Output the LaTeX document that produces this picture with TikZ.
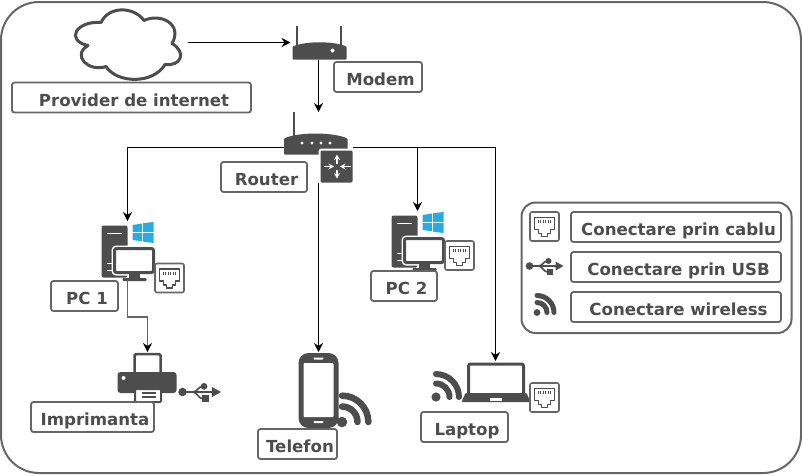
\documentclass[tikz,border=0pt]{standalone}
\usepackage{fontspec}
\setmainfont{DejaVu Sans}
\usetikzlibrary{arrows.meta,calc}
\definecolor{NetDark}{HTML}{4D4D4D}
\definecolor{NetLine}{HTML}{666666}
\definecolor{NetBlue}{HTML}{29ABE2}
\tikzset{
  portbox/.pic={
    \draw[NetLine,line width=1.6pt,fill=white,rounded corners=2pt] (-14.5,-14.5) rectangle (14.5,14.5);
    \draw[NetDark,line width=1.6pt,line join=round] (-10,-9) -- (10,-9) -- (10,3) -- (6,3) -- (6,7) -- (3,7) -- (3,10) -- (-3,10) -- (-3,7) -- (-6,7) -- (-6,3) -- (-10,3) -- cycle;
    \foreach \px in {-6,-3.6,-1.2,1.2,3.6,6}
      \draw[NetDark,line width=.9pt] (\px,-6.5) -- (\px,-3.5);
  },
  usbmark/.pic={
    \fill[NetDark] (-15,0) circle (3.8);
    \draw[NetDark,line width=1.6pt] (-15,0) -- (13,0);
    \fill[NetDark] (19,0) -- (11,-4.5) -- (11,4.5) -- cycle;
    \draw[NetDark,line width=1.6pt] (-6,0) .. controls (-2,0) and (-1,-5) .. (3,-5);
    \draw[NetDark,line width=1.6pt] (-6,0) .. controls (-2,0) and (-1,6) .. (3,6);
    \fill[NetDark] (4,-5) circle (3);
    \fill[NetDark] (2,3) rectangle (8,9);
  },
  wifimark/.pic={
    \fill[NetDark] (0,0) circle (3.4);
    \draw[NetDark,line cap=round] (10,0) arc[start angle=0,end angle=-90,radius=10];
    \draw[NetDark,line cap=round] (17,0) arc[start angle=0,end angle=-90,radius=17];
  },
  winmark/.pic={
    \fill[NetBlue] (0,3) -- (9.5,1.5) -- (9.5,9.8) -- (0,9.8) -- cycle;
    \fill[NetBlue] (10.5,1.2) -- (21,0) -- (21,9.8) -- (10.5,9.8) -- cycle;
    \fill[NetBlue] (0,10.8) -- (9.5,10.8) -- (9.5,19.2) -- (0,18) -- cycle;
    \fill[NetBlue] (10.5,10.8) -- (21,10.8) -- (21,21) -- (10.5,19.6) -- cycle;
  },
  pcmark/.pic={
    \fill[NetDark,rounded corners=2pt] (-26,-25) rectangle (0,27);
    \draw[white,line width=1.5pt] (-21,-17) -- (-6,-17);
    \draw[white,line width=1.5pt] (-21,13) -- (-15,13);
    \draw[white,line width=1.5pt] (-21,20) -- (-15,20);
    \draw[white,line width=6pt,rounded corners=2pt] (-13,-2) rectangle (26,22);
    \draw[NetDark,line width=3pt,fill=white,rounded corners=2pt] (-13,-2) rectangle (26,22);
    \fill[NetDark] (1,23) rectangle (12,28);
    \fill[NetDark,rounded corners=1pt] (-5,27.5) rectangle (19,30.5);
    \pic at (5,-28.5) {winmark};
  },
  cloudmark/.pic={
    \draw[NetDark,line width=3pt,fill=white,line join=round] (-30,-20) .. controls (-22,-37) and (3,-36) .. (13,-22) .. controls (30,-30) and (52,-18) .. (41,1) .. controls (56,10) and (50,24) .. (34,22) .. controls (22,42) and (-14,41) .. (-25,24) .. controls (-42,30) and (-60,13) .. (-43,3) .. controls (-66,-2) and (-55,-22) .. (-30,-20) -- cycle;
  },
  modemmark/.pic={
    \draw[NetDark,line width=2pt] (-22,-17) -- (-22,6);
    \draw[NetDark,line width=2pt] (22,-17) -- (22,6);
    \fill[NetDark,rounded corners=1pt] (-26,4) .. controls (-12,-1.5) and (14,-1.5) .. (28,4) -- (28,17) -- (-26,17) -- cycle;
    \fill[white] (14,8) circle (2);
  },
  routermark/.pic={
    \draw[NetDark,line width=2pt] (-25,-36) -- (-25,-8);
    \fill[NetDark,rounded corners=1pt] (-34.5,-9) .. controls (-20,-15.5) and (14,-15.5) .. (29,-9) -- (29,7) -- (-34.5,7) -- cycle;
    \foreach \dx in {-16.5,-6.5,2.5,11.5}
      \fill[white] (\dx,-4.5) circle (1.7);
    \draw[white,line width=2pt,fill=NetDark,rounded corners=2pt] (1,2) rectangle (35,36);
    \draw[white,line width=1.4pt,-{Stealth[length=5.5pt,width=6pt]}] (18.5,16) -- (18.5,7);
    \draw[white,line width=1.4pt,-{Stealth[length=5.5pt,width=6pt]}] (18.5,22) -- (18.5,31);
    \draw[white,line width=1.4pt,-{Stealth[length=5.5pt,width=6pt]}] (5,19) -- (15.5,19);
    \draw[white,line width=1.4pt,-{Stealth[length=5.5pt,width=6pt]}] (32,19) -- (21.5,19);
  },
  printermark/.pic={
    \draw[NetDark,line width=2.5pt,fill=white,rounded corners=1.5pt] (-13,-23) rectangle (13,2);
    \fill[NetDark,rounded corners=3pt] (-30,-5) rectangle (29,16);
    \fill[white] (-24,1) circle (2);
    \draw[NetDark,line width=2pt,fill=white,rounded corners=1pt] (-12.5,12) rectangle (13.5,25);
    \draw[NetDark,line width=1.2pt] (-6,16) -- (8,16) (-6,20) -- (8,20);
  },
  phonemark/.pic={
    \fill[NetDark,rounded corners=10pt] (-20,-37) rectangle (20,38);
    \fill[white,rounded corners=1pt] (-15,-27) rectangle (15,27);
    \fill[white,rounded corners=.8pt] (-5,-32.5) rectangle (5,-30.5);
    \fill[white,rounded corners=.8pt] (-5,31) rectangle (5,33);
  },
  laptopmark/.pic={
    \draw[NetDark,line width=3pt,fill=white,rounded corners=2pt] (-27,-19) rectangle (28,12);
    \fill[NetDark,rounded corners=1pt] (-30,10) -- (31,10) -- (35,19) -- (-34,19) -- cycle;
    \fill[white] (-6,14.5) rectangle (6,17.5);
  }
}
\begin{document}
\begin{tikzpicture}[
    x=1pt,y=-1pt,
    slot/.style={inner sep=0pt,outer sep=0pt},
    lbl/.style={draw=NetLine,line width=1.8pt,fill=white,rounded corners=2.5pt,inner sep=0pt,minimum height=30pt,text height=17pt,text depth=0pt,text=NetDark,font=\fontsize{16.6}{18}\selectfont\bfseries,execute at begin node={\hspace*{5pt}}},
    arr/.style={-{Stealth[length=9pt,width=9pt]},line width=1pt}
  ]
    \useasboundingbox (0,0) rectangle (802,475);
    \draw[NetLine,line width=2pt,rounded corners=38pt] (1,2) rectangle (801,473);
    \draw[NetLine,line width=2pt,rounded corners=14pt] (521.5,202.5) rectangle (791.5,333);

    \node[slot,minimum width=114pt,minimum height=70pt] (cloud) at (131,42.5) {};
    \node[slot,minimum width=56pt,minimum height=34pt] (modem) at (318.5,42.5) {};
    \node[slot,minimum width=69pt,minimum height=71pt] (router) at (318.5,147.5) {};
    \node[slot,minimum width=54pt,minimum height=59pt] (pc1) at (127.5,250.5) {};
    \node[slot,minimum width=54pt,minimum height=59pt] (pc2) at (417.5,240.5) {};
    \node[slot,minimum width=60pt,minimum height=50pt] (printer) at (147.5,377) {};
    \node[slot,minimum width=40pt,minimum height=76pt] (phone) at (318.5,390) {};
    \node[slot,minimum width=60pt,minimum height=44pt] (laptop) at (495.5,383) {};

    \pic at (cloud) {cloudmark};
    \pic at (modem) {modemmark};
    \pic at (router) {routermark};
    \pic at (pc1) {pcmark};
    \pic at (pc2) {pcmark};
    \pic at (printer) {printermark};
    \pic[scale=1.55,line width=6.5pt] at (342,422) {wifimark};
    \pic at (phone) {phonemark};
    \pic at (laptop) {laptopmark};

    \pic at (169.5,278) {portbox};
    \pic at (459.5,255.5) {portbox};
    \pic at (544.5,397.5) {portbox};
    \pic at (544.5,226.5) {portbox};
    \pic[scale=1.13] at (199.5,392) {usbmark};
    \pic at (544.5,266) {usbmark};
    \pic[scale=1.35,line width=6pt] at (436,397) {wifimark};
    \pic[line width=5pt] at (537,312.5) {wifimark};

    \draw[arr] (cloud.east) -- (modem.west);
    \draw[arr] (modem.south) -- (router.north);
    \draw[arr] (router.west) -| (pc1.north);
    \draw[arr] (router.east) -| (pc2.north);
    \draw[arr] (router.east) -| (laptop.north);
    \draw[arr] (router.south) -- (phone.north);
    \draw[arr,NetLine,line width=1.3pt,-{Stealth[length=9pt,width=9pt,color=black]}] (pc1.south) -- ++(0,37) -| (printer.north);

    \node[lbl,minimum width=239pt] (providerlbl) at (131.5,97.5) {Provider de internet};
    \node[lbl,minimum width=88pt] (modemlbl) at (378,77) {Modem};
    \node[lbl,minimum width=86pt] (routerlbl) at (264,177) {Router};
    \node[lbl,minimum width=67pt] (pc1lbl) at (84.5,296) {PC 1};
    \node[lbl,minimum width=66pt] (pc2lbl) at (404,286) {PC 2};
    \node[lbl,minimum width=123pt] (printerlbl) at (92.5,417) {Imprimanta};
    \node[lbl,minimum width=79pt] (phonelbl) at (297.5,444) {Telefon};
    \node[lbl,minimum width=87pt] (laptoplbl) at (464.5,427) {Laptop};
    \node[lbl,minimum width=210pt] (cablelbl) at (676,227) {Conectare prin cablu};
    \node[lbl,minimum width=210pt] (usblbl) at (676,267) {Conectare prin USB};
    \node[lbl,minimum width=210pt] (wifilbl) at (676,307) {Conectare wireless};
  \end{tikzpicture}
\end{document}
